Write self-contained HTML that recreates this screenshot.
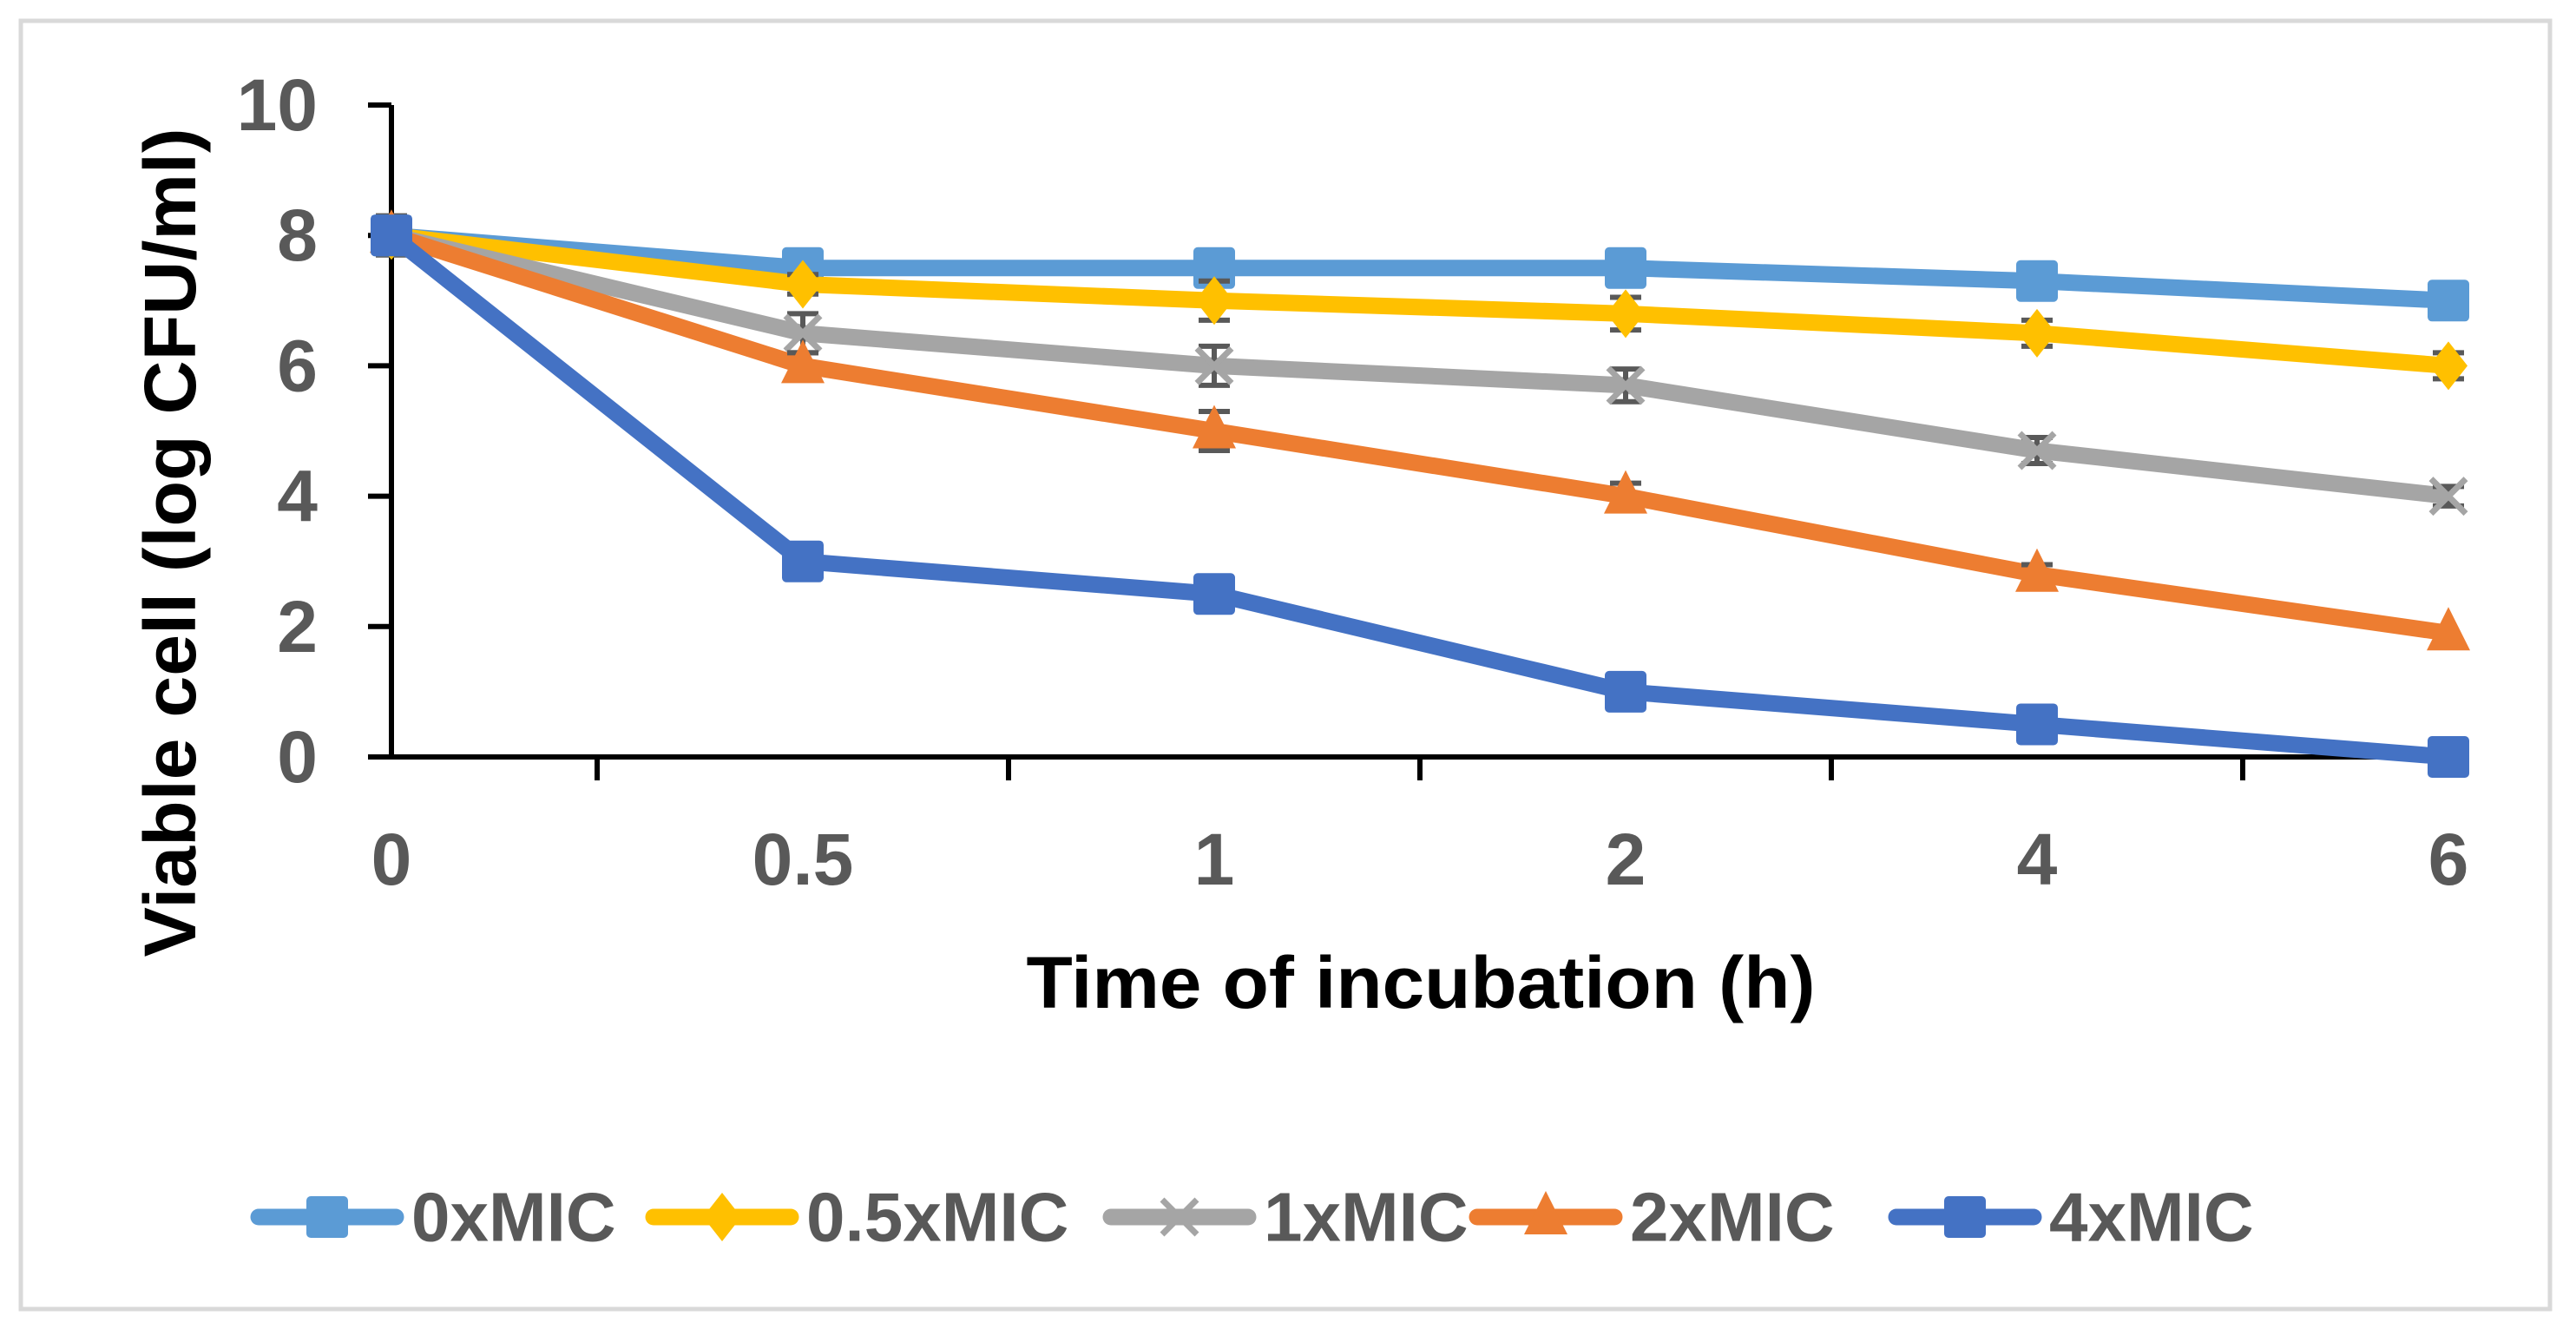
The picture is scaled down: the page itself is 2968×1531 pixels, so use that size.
<!DOCTYPE html>
<html><head><meta charset="utf-8"><style>
html,body{margin:0;padding:0;background:#fff;}
svg{display:block;font-family:"Liberation Sans",sans-serif;}
</style></head><body>
<svg id="chart" width="2968" height="1531" viewBox="0 0 2968 1531" xmlns="http://www.w3.org/2000/svg">
<rect x="24" y="24" width="2914" height="1484" fill="#fff" stroke="#d9d9d9" stroke-width="5"/>
<g id="axes"></g>
<g id="series"></g>
<text x="196" y="625" transform="rotate(-90 196 625)" text-anchor="middle" dominant-baseline="central" font-weight="bold" font-size="84" fill="#000" textLength="955" lengthAdjust="spacingAndGlyphs">Viable cell (log CFU/ml)</text>
<text x="1637" y="1132" text-anchor="middle" dominant-baseline="central" font-weight="bold" font-size="84" fill="#000" textLength="909" lengthAdjust="spacingAndGlyphs">Time of incubation (h)</text>
<g id="legend"></g>
</svg>
<script>
const categories = ["0","0.5","1","2","4","6"];
const yTicks = [0,2,4,6,8,10];
const seriesNames = ["0xMIC","0.5xMIC","1xMIC","2xMIC","4xMIC"];
const s0x = [8,7.5,7.5,7.5,7.3,7.0];
const s05x = [8,7.25,7.0,6.8,6.5,6.0];
const s1x = [8,6.5,6.0,5.7,4.7,4.0];
const s2x = [8,6.0,5.0,4.0,2.8,1.9];
const s4x = [8,3.0,2.5,1.0,0.5,0.0];
const e0x = [0.3,0,0,0,0,0];
const e05x = [0,0.15,0.3,0.25,0.2,0.2];
const e1x = [0,0.3,0.3,0.25,0.2,0.15];
const e2x = [0,0.2,0.3,0.2,0.15,0];
const e4x = [0,0,0,0,0,0];

const NS="http://www.w3.org/2000/svg";
const X0=451, STEP=474, Y0=872, YU=75.1;
function xs(i){return X0+i*STEP;}
function ys(v){return Y0-v*YU;}
function mk(tag,attrs,parent){const e=document.createElementNS(NS,tag);for(const k in attrs)e.setAttribute(k,attrs[k]);parent.appendChild(e);return e;}

const axes=document.getElementById('axes');
yTicks.forEach(t=>{
  const l=mk('line',{x1:424,x2:X0,y1:ys(t),y2:ys(t),stroke:'#000','stroke-width':6},axes);
  
  
  const tx=mk('text',{x:366,y:ys(t),'text-anchor':'end','dominant-baseline':'central','font-size':84,'font-weight':'bold',fill:'#595959'},axes);
  tx.textContent=t;
  
  
});
categories.forEach((c,i)=>{
  const tx=mk('text',{x:xs(i),y:990,'text-anchor':'middle','dominant-baseline':'central','font-size':84,'font-weight':'bold',fill:'#595959'},axes);
  tx.textContent=c;
  
  
  if(i<categories.length-1){
    const l=mk('line',{x1:xs(i+0.5),x2:xs(i+0.5),y1:Y0,y2:Y0+27,stroke:'#000','stroke-width':6},axes);
    
    
  }
});
const ya=mk('line',{x1:X0,x2:X0,y1:ys(10),y2:Y0+3,stroke:'#000','stroke-width':6},axes);


const xa=mk('line',{x1:X0-27,x2:xs(5),y1:Y0,y2:Y0,stroke:'#000','stroke-width':6},axes);



const colors=["#5B9BD5","#FFC000","#A5A5A5","#ED7D31","#4472C4"];
const markers=["square","diamond","x","triangle","square"];
const allData=[s0x,s05x,s1x,s2x,s4x];
const allErr=[e0x,e05x,e1x,e2x,e4x];

function marker(type,cx,cy,col,parent){
  let e;
  if(type==='square') e=mk('rect',{x:cx-24,y:cy-24,width:48,height:48,rx:5,fill:col},parent);
  else if(type==='diamond') e=mk('polygon',{points:`${cx},${cy-28} ${cx+22},${cy} ${cx},${cy+28} ${cx-22},${cy}`,fill:col},parent);
  else if(type==='triangle') e=mk('polygon',{points:`${cx},${cy-30} ${cx+25},${cy+20} ${cx-25},${cy+20}`,fill:col,'stroke-linejoin':'round'},parent);
  else e=mk('path',{d:`M${cx-20},${cy-20}L${cx+20},${cy+20}M${cx+20},${cy-20}L${cx-20},${cy+20}`,stroke:col,'stroke-width':7,fill:'none'},parent);
  return e;
}

const sl=document.getElementById('series');
allData.forEach((d,si)=>{
  const g=mk('g',{},sl);
  
  
  const pl=mk('polyline',{points:d.map((v,i)=>xs(i)+','+ys(v)).join(' '),fill:'none',stroke:colors[si],'stroke-width':19,'stroke-linejoin':'round'},g);
  
  
  d.forEach((v,i)=>{
    const er=allErr[si][i];
    if(er>0){
      const eb=mk('path',{d:`M${xs(i)},${ys(v+er)}V${ys(v-er)}M${xs(i)-18},${ys(v+er)}H${xs(i)+18}M${xs(i)-18},${ys(v-er)}H${xs(i)+18}`,stroke:'#595959','stroke-width':6,fill:'none'},g);
      
      
    }
    const m=marker(markers[si],xs(i),ys(v),colors[si],g);
    
    
  });
});

const lg=document.getElementById('legend');
const legX=[290,745,1272,1694,2177];
seriesNames.forEach((n,si)=>{
  const g=mk('g',{},lg);
  
  
  const x=legX[si];
  mk('line',{x1:x+8,x2:x+166,y1:1402,y2:1402,stroke:colors[si],'stroke-width':19,'stroke-linecap':'round'},g);
  marker(markers[si],x+87,1402,colors[si],g);
  const t=mk('text',{x:x+184,y:1402,'dominant-baseline':'central','font-size':80,'font-weight':'bold',fill:'#595959'},g);
  t.textContent=n;
});
</script>
</body></html>
